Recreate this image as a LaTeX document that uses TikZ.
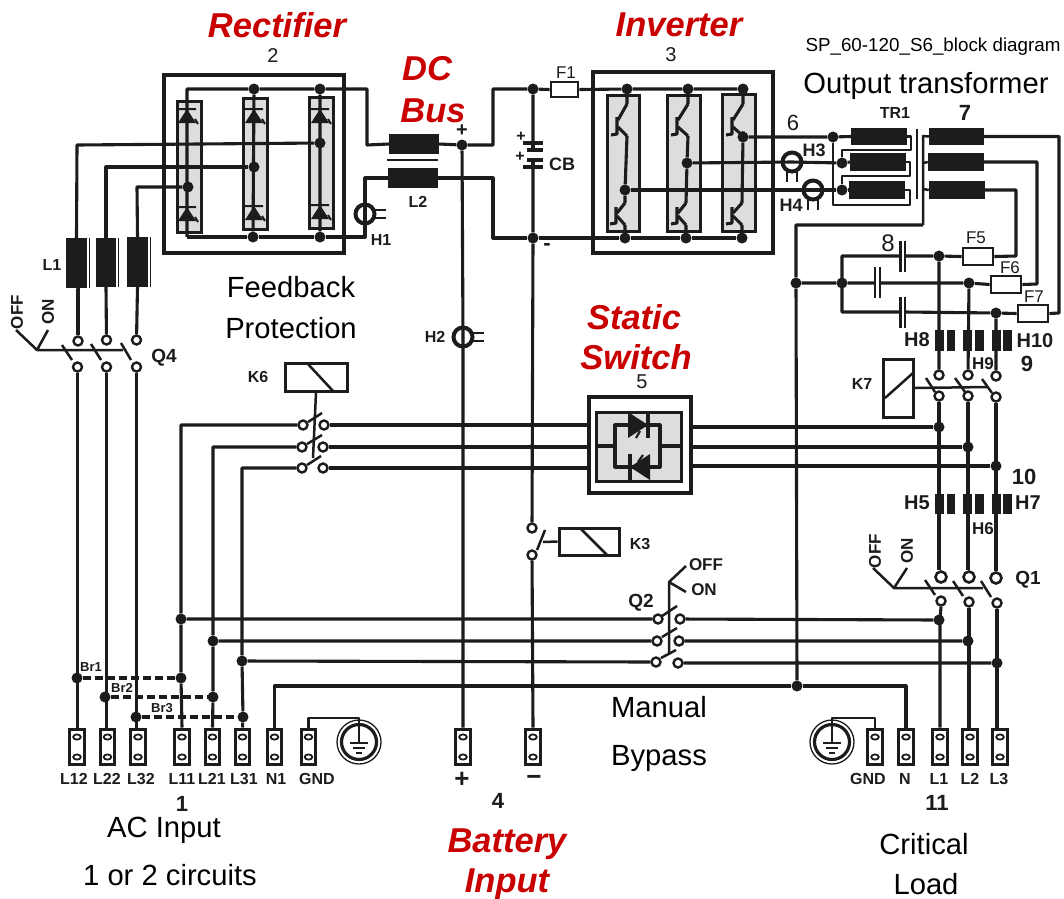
\documentclass[tikz,border=0pt]{standalone}
\usepackage{fontspec}
\setmainfont{Liberation Sans}
\definecolor{ink}{HTML}{1C1C1C}
\definecolor{mod}{HTML}{DDDDDD}
\definecolor{redt}{HTML}{C80000}
\tikzset{
 wire/.style={draw=ink,line width=3.1pt,line join=round},
 thin wire/.style={draw=ink,line width=2.5pt,line join=round},
 dot/.style={circle,fill=ink,inner sep=0pt,minimum size=11pt},
 cont/.style={circle,draw=ink,line width=2.4pt,fill=white,inner sep=0pt,minimum size=9pt},
 contb/.style={circle,draw=ink,line width=2.6pt,fill=white,inner sep=0pt,minimum size=11pt},
 ringn/.style={circle,draw=ink,line width=4pt,inner sep=0pt,minimum size=19pt},
 solid block/.style={fill=ink,draw=none,inner sep=0pt},
 openbox/.style={draw=ink,line width=3pt,inner sep=0pt,fill=white},
 framebox/.style={draw=ink,line width=3.3pt,inner sep=0pt},
 modbox/.style={draw=ink,line width=3pt,fill=mod,inner sep=0pt},
 fusebox/.style={draw=ink,line width=2.8pt,fill=white,inner sep=0pt},
 termbox/.style={draw=ink,line width=3pt,fill=white,inner sep=0pt,minimum width=14.5pt,minimum height=35pt},
 lab/.style={inner sep=0pt,text=ink,font=\fontsize{16}{16}\selectfont\bfseries},
 labthin/.style={inner sep=0pt,text=ink,font=\fontsize{17}{17}\selectfont},
 num/.style={inner sep=0pt,text=ink,font=\fontsize{20}{20}\selectfont},
 numb/.style={inner sep=0pt,text=ink,font=\fontsize{22}{22}\selectfont\bfseries},
 note/.style={inner sep=0pt,anchor=base,text=black,font=\fontsize{29.2}{29.2}\selectfont},
 redl/.style={inner sep=0pt,anchor=base,text=redt,font=\fontsize{34.5}{34.5}\selectfont\bfseries\itshape},
}
\newcommand\bx[6]{\pgfmathsetmacro\bxw{#5-#3}\pgfmathsetmacro\bxh{#6-#4}%
 \node[#1,minimum width=\bxw pt,minimum height=\bxh pt] (#2) at ({(#3+#5)/2},{(#4+#6)/2}) {};}
\newcommand\diode[2]{%
 \fill[ink] (#1,#2) -- (#1+9,#2+14) -- (#1-9,#2+14) -- cycle;
 \draw[ink,line width=2pt] (#1-9,#2) -- (#1+9,#2) (#1+8,#2+10) -- (#1+11,#2+15);}
\newcommand\igbt[3]{% wire x, bar centre y, bar x: upper device, long collector slant
 \draw[wire] (#3,#2-9) -- (#3,#2+8) -- (#3-6,#2+9);
 \draw[wire] (#1,#2-22) -- (#3+1,#2-6) (#3+1,#2+1) -- (#1,#2+10);}
\newcommand\igbtl[3]{% wire x, bar centre y, bar x: lower device
 \draw[wire] (#3,#2-8) -- (#3,#2+8) -- (#3-6,#2+9);
 \draw[wire] (#1,#2-12) -- (#3+1,#2-2) (#3+1,#2+1) -- (#1,#2+10);}
\newcommand\term[4]{% name, x, label, label x
 \node[termbox] (t#1) at (#2,746.5) {};
 \draw[ink,line width=1.8pt] (#2,737) ellipse (3.8pt and 2.6pt) (#2,757) ellipse (3.8pt and 2.6pt);
 \node[lab] (l#1) at (#4,779) {#3};}
\newcommand\earth[2]{%
 \draw[ink,line width=1.3pt] (#1,#2) circle (22pt);
 \draw[ink,line width=3.2pt] (#1,#2) circle (17.5pt);
 \draw[ink,line width=2.6pt] (#1,#2-12) -- (#1,#2+1);
 \draw[ink,line width=2.6pt] (#1-9,#2+1) -- (#1+9,#2+1);
 \draw[ink,line width=2.6pt] (#1-6,#2+6) -- (#1+6,#2+6);
 \draw[ink,line width=2.6pt] (#1-3,#2+11) -- (#1+3,#2+11);}
\newcommand\tails[2]{% horizontal tails of a ring, to the right
 \draw[ink,line width=2.2pt] (#1+9,#2-4) -- (#1+21,#2-4) (#1+9,#2+4) -- (#1+21,#2+4);}
\newcommand\tailsd[2]{% tails down
 \draw[ink,line width=2.2pt] (#1-5,#2+9) -- (#1-5,#2+20) (#1+5,#2+9) -- (#1+5,#2+20);}
\begin{document}
\begin{tikzpicture}[x=1pt,y=-1pt]
\useasboundingbox (0,0) rectangle (1064,898);
\fill[white] (0,0) rectangle (1064,898);

% ---- frames and modules
\bx{framebox}{rect}{164}{75}{344}{253}
\bx{modbox}{rm1}{177}{101}{201}{232}
\bx{modbox}{rm2}{243}{98}{267}{229}
\bx{modbox}{rm3}{309}{97}{333}{228}
\bx{framebox}{inv}{593}{72}{773}{253}
\bx{modbox}{im1}{607}{95}{639}{231}
\bx{modbox}{im2}{667}{95}{700}{231}
\bx{modbox}{im3}{722}{94}{755}{231}
\bx{framebox}{ssw}{589}{397}{691}{493}
\bx{modbox}{ssi}{596}{412}{681}{481}

% ---- junctions
\foreach \n/\x/\y in {ru2/254/89,ru3/320/89,rd2/253/237,rd3/320/237,
 ra/320/143,rb/254/167,rc/188/187,
 bp/462/145,bn/533/238,bt/533/89,
 iu1/627/89,iu2/688/89,iu3/743/89,id1/625/238,id2/686/238,id3/742/238,
 ia/743/137,ib/687/163,ic/625/190,
 pa/833/137,pb/842/163,pc/842/190,
 cj/842/283,nd/796/283,f5j/939/256,f6j/969/283,f7j/996/313,
 sa/939/427,sb/968/447,sc/996/466,
 qa/939/620,qb/968/641,qc/997/663,
 la/181/619,lb/213/641,lc/242/661,
 n0/797/686,
 br1a/77/678,br1b/181/678,br2a/105/697,br2b/213/697,br3a/136/717,br3b/243/717}
 {\node[dot] (\n) at (\x,\y) {};}

% ---- terminals
\term{L12}{77}{L12}{74}
\term{L22}{107.5}{L22}{107}
\term{L32}{138}{L32}{141}
\term{L11}{182}{L11}{182}
\term{L21}{212.5}{L21}{212}
\term{L31}{242.5}{L31}{244}
\term{N1}{274.5}{N1}{276}
\term{GA}{308.5}{GND}{317}
\node[termbox] (tBP) at (463,746.5) {};
\draw[ink,line width=1.8pt] (463,737) ellipse (3.8pt and 2.6pt) (463,757) ellipse (3.8pt and 2.6pt);
\node[lab,font=\fontsize{26}{26}\selectfont\bfseries] (lBP) at (462,780) {+};
\node[termbox] (tBN) at (533,746.5) {};
\draw[ink,line width=1.8pt] (533,737) ellipse (3.8pt and 2.6pt) (533,757) ellipse (3.8pt and 2.6pt);
\node[lab,font=\fontsize{26}{26}\selectfont\bfseries] (lBN) at (534,780) {−};
\term{GB}{875}{GND}{868}
\term{NN}{906}{N}{905}
\term{L1}{940}{L1}{939}
\term{L2}{970}{L2}{970}
\term{L3}{1000}{L3}{999}
\earth{359}{742}
\earth{832}{742}

% ---- chokes, fuses
\bx{solid block}{L2a}{389}{134}{439}{154}
\bx{solid block}{L2b}{388}{168}{438}{188}
\bx{solid block}{La}{66}{238}{87}{288}
\bx{solid block}{Lb}{96}{238}{116}{287}
\bx{solid block}{Lc}{127}{237}{148}{287}
\bx{solid block}{Tpa}{851}{128}{907}{145}
\bx{solid block}{Tpb}{850}{153}{906}{171}
\bx{solid block}{Tpc}{849}{181}{905}{199}
\bx{solid block}{Tsa}{929}{128}{984}{145}
\bx{solid block}{Tsb}{928}{153}{984}{171}
\bx{solid block}{Tsc}{929}{181}{985}{199}
\bx{fusebox}{F1}{551}{82}{578}{97}
\bx{fusebox}{F5}{963}{248}{993}{265}
\bx{fusebox}{F6}{991}{276}{1021}{293}
\bx{fusebox}{F7}{1018}{305}{1048}{322}
\bx{solid block}{h8a}{935}{330}{944}{351}
\bx{solid block}{h8b}{947}{330}{955}{351}
\bx{solid block}{h9a}{963}{330}{972}{351}
\bx{solid block}{h9b}{975}{330}{984}{351}
\bx{solid block}{h10a}{992}{330}{1001}{351}
\bx{solid block}{h10b}{1003}{330}{1012}{351}
\bx{solid block}{h5a}{935}{494}{944}{514}
\bx{solid block}{h5b}{947}{494}{955}{514}
\bx{solid block}{h6a}{963}{494}{972}{514}
\bx{solid block}{h6b}{975}{494}{984}{514}
\bx{solid block}{h7a}{992}{494}{1001}{514}
\bx{solid block}{h7b}{1003}{494}{1012}{514}
\draw[ink,line width=1.8pt] (387,160) -- (438,160);
\draw[ink,line width=1.6pt] (89.5,238) -- (89.5,288) (118.5,238) -- (118.5,287) (150.5,237) -- (150.5,287);
\draw[ink,line width=1.8pt] (917,129) -- (917,199);

% ---- rings
\node[ringn] (H1) at (365,214) {}; \tails{365}{214}
\node[ringn] (H2) at (463,337) {}; \tails{463}{337}
\node[ringn] (H3) at (792,162) {}; \tailsd{792}{162}
\node[ringn] (H4) at (813,190) {}; \tailsd{813}{190}

% ---- contacts
\foreach \n/\x/\y in {qt1/78/341,qt2/106.5/340,qt3/136.5/340,qb1/77.5/367,qb2/106.5/367,qb3/136.5/367,
 k6l1/303/425,k6l2/302/447,k6l3/302/468,k6r1/324/425,k6r2/323/447,k6r3/323/468,
 q2l1/658/619,q2l2/657/641,q2l3/656/662,q2r1/680/619,q2r2/679/641,q2r3/678/663,
 k3t/532/528,k3b/532/555,
 k7t1/939/375,k7t2/968/375,k7t3/996/376,k7b1/939/396,k7b2/968/396,k7b3/996/397,
 q1b1/941/601,q1b2/969/602,q1b3/997/603}
 {\node[cont] (\n) at (\x,\y) {};}
\foreach \n/\x/\y in {q1t1/941/577,q1t2/969/577,q1t3/996/578}
 {\node[contb] (\n) at (\x,\y) {};}

% ---- relay boxes
\bx{openbox}{K6}{285}{363}{347}{391}
\bx{openbox}{K3}{559}{528}{619}{555}
\bx{openbox}{K7}{883}{359}{913}{417}
\draw[thin wire] (307,363) -- (333,391);
\draw[thin wire] (580,528) -- (607,555);
\draw[thin wire] (885,398) -- (913,373);

% ---- capacitor and semiconductor symbols
\coordinate (capa) at (533,143);
\coordinate (capb) at (533,167);
\draw[wire] (bt) -- (capa) (capb) -- (bn) (bn) -- (k3t);
\draw[ink,line width=3.2pt] (523,143) -- (543,143) (527,150) -- (543,150) (527,160) -- (543,160) (523,167) -- (543,167);
\draw[wire] (533,143) -- (533,150) (533,160) -- (533,167);
\diode{187}{109}\diode{187}{207}
\diode{254}{109}\diode{254}{206}
\diode{320}{109}\diode{320}{205}

% rectifier wiring
\draw[wire] (187,237) -- (187,89) -- (ru2) -- (ru3) -| (367,145) -- (L2a.west);
\draw[wire] (L2a.east) -- (bp) -| (493,89) -- (bt) -- (F1.west);
\draw[wire] (F1.east) -- (iu1) -- (iu2) -- (iu3);
\draw[wire] (ru2) -- (rd2) (ru3) -- (rd3);
\draw[wire] (187,237) -- (rd2) -- (rd3) -| (H1.center) |- (L2b.west);
\draw[wire] (L2b.east) -- (493,178) |- (bn) -- (id1) -- (id2) -- (id3);

% feeders
\draw[wire] (La.north) -- (77,145) -- (ra);
\draw[wire] (Lb.north) -- (106,167) -- (rb);
\draw[wire] (Lc.north) -- (137,187) -- (rc);
\draw[wire] (La.south) -- (qt1 |- La.south) -- (qt1);
\draw[wire] (Lb.south) -- (qt2) (Lc.south) -- (qt3);
\draw[wire] (qb1) -- (qb1 |- tL12.north) (qb2) -- (qb2 |- tL22.north) (qb3) -- (qb3 |- tL32.north);
% Q4
\draw[thin wire] (62,345) -- (72,360) (91,344) -- (101,360) (121,343) -- (131,360);
\draw[thin wire] (16,330) -- (37,350) -- (48,330) (37,350) -- (123,350);

% IGBT
\igbt{627}{126}{617}\igbtl{625}{215}{616}
\igbt{688}{126}{677}\igbtl{686}{215}{677}
\igbt{743}{126}{732}\igbtl{742}{215}{732}
\draw[wire] (iu1) -- (627,104) (627,136) -- (ic) -- (625,203) (625,225) -- (id1);
\draw[wire] (iu2) -- (688,104) (688,136) -- (ib) -- (686,203) (686,225) -- (id2);
\draw[wire] (iu3) -- (743,104) (743,136) -- (ia) -- (742,203) (742,225) -- (id3);

% inverter outputs and primary
\draw[wire] (ia) -- (pa) -- (Tpa.west);
\draw[wire] (ib) -- (H3.center) -- (pb) -- (Tpb.west);
\draw[wire] (ic) -- (H4.center) -- (pc) -- (Tpc.west);
\draw[thin wire] (pa) |- (910,205) |- (Tpc.east);
\draw[thin wire] (pb) |- (911,150) |- (Tpa.east);
\draw[thin wire] (pc) |- (910,176) |- (Tpb.east);

% secondary
\draw[thin wire] (923,225) -- (923,136) -- (Tsa.west);
\draw[thin wire] (923,163) -- (Tsb.west) (923,189) -- (Tsc.west);
\draw[wire] (n0) -- (nd) -- (796,225) -- (923,225);
\draw[wire] (Tsa.east) -| (1059,313) -- (F7.east);
\draw[wire] (Tsb.east) -| (1037,284) -- (F6.east);
\draw[wire] (Tsc.east) -| (1016,256) -- (F5.east);
\draw[wire] (F5.west) -- (f5j) -- (905,256) (900,256) -- (842,256) -- (842,312) -- (900,312) (905,312) -- (f7j) -- (F7.west);
\draw[wire] (nd) -- (cj) -- (875,283) (880,283) -- (f6j) -- (F6.west);
\draw[ink,line width=2.4pt] (900.5,241) -- (900.5,272) (905,241) -- (905,272)
 (875,267) -- (875,298) (880,267) -- (880,298)
 (900.5,297) -- (900.5,328) (905,297) -- (905,328);

% output columns
\draw[wire] (f5j) -- (k7t1) (f6j) -- (k7t2) (f7j) -- (k7t3);
\draw[wire] (k7b1) -- (k7b1 |- q1t1.north) (k7b2) -- (k7b2 |- q1t2.north) (k7b3) -- (q1t3);
\draw[wire] (q1b1.south) -- (940,620) -- (tL1.north);
\draw[wire] (q1b2.south) -- (969,641) -- (969,728);
\draw[wire] (q1b3.south) -- (tL3.north -| q1b3);
% K7 link
\draw[thin wire] (K7.east) -- (987,387);
\draw[thin wire] (926,378) -- (935,392) (955,378) -- (965,392) (982,379) -- (992,393);
% Q1
\draw[thin wire] (873,568) -- (894,588) -- (907,568) (894,588) -- (983,588);
\draw[thin wire] (925,580) -- (935,595) (953,581) -- (963,596) (981,581) -- (991,597);

% DC bus
\draw[wire] (bp) -- (H2.center) -- (tBP.north);
\draw[wire] (k3b) -- (tBN.north);
\draw[thin wire] (537,550) -- (545,530) (543,542) -- (K3.west);

% AC lines to static switch
\draw[wire] (tL11.north) -- (br1b) -- (la) |- (k6l1);
\draw[wire] (tL21.north) -- (br2b) -- (lb) |- (k6l2);
\draw[wire] (tL31.north) -- (br3b) -- (lc) |- (k6l3);
\draw[wire] (k6r1) -- (ssw.west |- k6r1) (k6r2) -- (ssw.west |- k6r2) (k6r3) -- (ssw.west |- k6r3);
\draw[thin wire] (K6.south) -- (313,458);
\draw[thin wire] (308,422) -- (322,413) (307,444) -- (322,435) (307,465) -- (321,456);
\draw[wire] (ssw.east |- sa) -- (sa) (ssw.east |- sb) -- (sb) (ssw.east |- sc) -- (sc);
% static switch inner
\draw[wire] (596,446) -- (615,446) (660,446) -- (681,446);
\draw[wire] (615,425) rectangle (660,467);
\fill[ink] (628,412) -- (648,425) -- (628,438) -- cycle;
\draw[ink,line width=3.2pt] (648,412) -- (648,438);
\fill[ink] (650,454) -- (630,467) -- (650,480) -- cycle;
\draw[ink,line width=3.2pt] (630,454) -- (630,480);
\draw[ink,line width=2.2pt] (640,431) -- (636,438) (638,462) -- (643,455);

% manual bypass lines
\draw[wire] (la) -- (q2l1) (lb) -- (q2l2) (lc) -- (q2l3);
\draw[wire] (q2r1) -- (qa) (q2r2) -- (qb) (q2r3) -- (qc);
\draw[thin wire] (686,566) -- (669,582) -- (686,592) (669,582) -- (669,653);
\draw[thin wire] (662,616) -- (677,606) (662,637) -- (677,628) (661,658) -- (676,650);

% neutral, ground
\draw[wire] (tN1.north) |- (n0) -| (tNN.north);
\draw[thin wire] (tGA.north) |- (359,718) -- (359,730);
\draw[thin wire] (tGB.north) |- (832,718) -- (832,730);

% bridges
\draw[wire,dash pattern=on 8pt off 4pt] (br1a) -- (br1b);
\draw[wire,dash pattern=on 8pt off 4pt] (br2a) -- (br2b);
\draw[wire,dash pattern=on 8pt off 4pt] (br3a) -- (br3b);

% ---- red titles
\node[redl] (tRect) at (277,37) {Rectifier};
\node[redl] (tDC) at (427,80) {DC};
\node[redl] (tBus) at (433,122) {Bus};
\node[redl] (tInv) at (679,36) {Inverter};
\node[redl] (tSt) at (634,329) {Static};
\node[redl] (tSw) at (636,369) {Switch};
\node[redl] (tBat) at (507,852) {Battery};
\node[redl] (tInp) at (507,892) {Input};

% ---- black notes
\node[inner sep=0pt,font=\fontsize{18.8}{18.8}\selectfont] (sp) at (933,47) {SP\_60-120\_S6\_block diagram};
\node[note] (nOut) at (926,93) {Output transformer};
\node[note] (nFb) at (291,297) {Feedback};
\node[note] (nPr) at (291,338) {Protection};
\node[note] (nMa) at (659,717) {Manual};
\node[note] (nBy) at (659,765) {Bypass};
\node[note] (nAC) at (164,837) {AC Input};
\node[note] (nCir) at (170,885) {1 or 2 circuits};
\node[note] (nCr) at (924,854) {Critical};
\node[note] (nLo) at (926,894) {Load};

% ---- numbers
\node[num] (n2) at (273,56) {2};
\node[num] (n3) at (671,55) {3};
\node[num] (n5) at (642,382) {5};
\node[num,font=\fontsize{22}{22}\selectfont] (n6) at (793,123) {6};
\node[num,font=\fontsize{24}{24}\selectfont] (n8) at (888,243) {8};
\node[numb] (n7) at (965,113) {7};
\node[numb] (n9) at (1027,364) {9};
\node[numb] (n10) at (1024,477) {10};
\node[numb] (n1) at (182,804) {1};
\node[numb] (n4) at (498,801) {4};
\node[numb] (n11) at (937,803) {11};

% ---- small labels
\node[lab,font=\fontsize{20}{20}\selectfont\bfseries] (pl) at (462,131) {+};
\node[lab,font=\fontsize{22}{22}\selectfont\bfseries] (mi) at (547,247) {-};
\node[lab] (cp1) at (521,137) {+};
\node[lab] (cp2) at (520,157) {+};
\node[lab,font=\fontsize{18}{18}\selectfont\bfseries] (CB) at (562,164) {CB};
\node[lab] (TR) at (895,113) {TR1};
\node[labthin] (lF1) at (566,73) {F1};
\node[labthin] (lF5) at (976,238) {F5};
\node[labthin] (lF6) at (1010,268) {F6};
\node[labthin] (lF7) at (1034,297) {F7};
\node[lab] (lL2) at (418,202) {L2};
\node[lab] (lH1) at (381,240) {H1};
\node[lab] (lL1) at (52,265) {L1};
\node[lab,font=\fontsize{19}{19}\selectfont\bfseries] (lQ4) at (164,358) {Q4};
\node[lab] (lK6) at (258,377) {K6};
\node[lab] (lH2) at (435,337) {H2};
\node[lab] (lK3) at (640,544) {K3};
\node[lab,font=\fontsize{17}{17}\selectfont\bfseries] (lOFF) at (706,565) {OFF};
\node[lab,font=\fontsize{17}{17}\selectfont\bfseries] (lON) at (704,590) {ON};
\node[lab,font=\fontsize{19}{19}\selectfont\bfseries] (lQ2) at (641,603) {Q2};
\node[lab,font=\fontsize{18}{18}\selectfont\bfseries] (lH3) at (814,150) {H3};
\node[lab,font=\fontsize{18}{18}\selectfont\bfseries] (lH4) at (791,205) {H4};
\node[lab,font=\fontsize{20}{20}\selectfont\bfseries] (lH8) at (917,340) {H8};
\node[lab,font=\fontsize{20}{20}\selectfont\bfseries] (lH10) at (1035,341) {H10};
\node[lab,font=\fontsize{17}{17}\selectfont\bfseries] (lH9) at (983,364) {H9};
\node[lab] (lK7) at (862,384) {K7};
\node[lab,font=\fontsize{20}{20}\selectfont\bfseries] (lH5) at (917,503) {H5};
\node[lab,font=\fontsize{20}{20}\selectfont\bfseries] (lH7) at (1028,503) {H7};
\node[lab,font=\fontsize{17}{17}\selectfont\bfseries] (lH6) at (983,529) {H6};
\node[lab,font=\fontsize{19}{19}\selectfont\bfseries] (lQ1) at (1028,580) {Q1};
\node[lab,rotate=90,font=\fontsize{17}{17}\selectfont\bfseries] (oA) at (17,312) {OFF};
\node[lab,rotate=90,font=\fontsize{17}{17}\selectfont\bfseries] (oB) at (48,312) {ON};
\node[lab,rotate=90,font=\fontsize{17}{17}\selectfont\bfseries] (oC) at (875,551) {OFF};
\node[lab,rotate=90,font=\fontsize{17}{17}\selectfont\bfseries] (oD) at (907,551) {ON};
\node[lab,font=\fontsize{13}{13}\selectfont\bfseries] (bA) at (91,667) {Br1};
\node[lab,font=\fontsize{13}{13}\selectfont\bfseries] (bB) at (122,688) {Br2};
\node[lab,font=\fontsize{13}{13}\selectfont\bfseries] (bC) at (162,708) {Br3};
\end{tikzpicture}
\end{document}
